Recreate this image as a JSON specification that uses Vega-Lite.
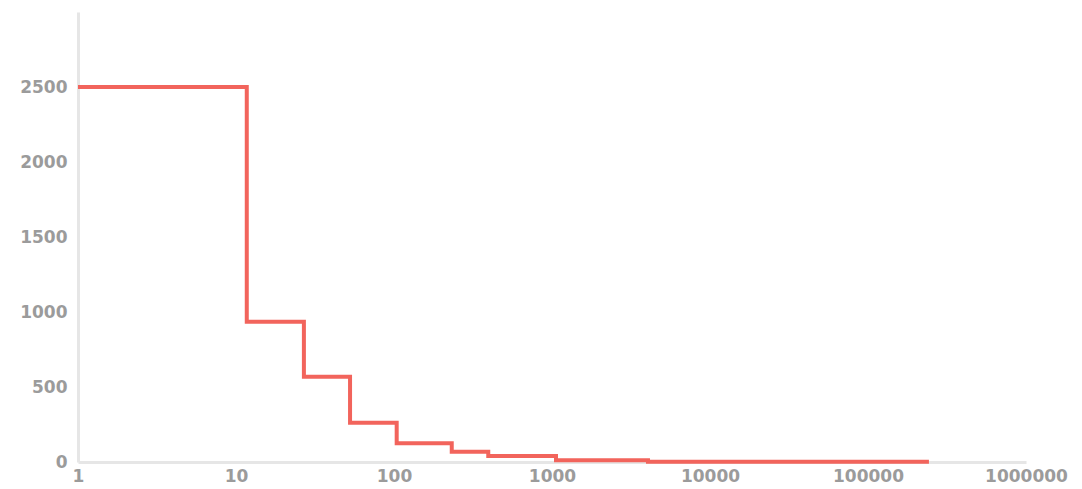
{
  "$schema": "https://vega.github.io/schema/vega-lite/v6.json",
  "autosize": {"type": "none"},
  "padding": {"left": 78, "top": 12, "right": 56, "bottom": 27},
  "width": 948,
  "height": 450,
  "background": "white",
  "config": {"view": {"stroke": null}},
  "data": {
    "values": [
      {"x": 1, "y": 2500},
      {"x": 11.7, "y": 935},
      {"x": 26.9, "y": 569},
      {"x": 52.7, "y": 262},
      {"x": 104, "y": 125},
      {"x": 232, "y": 69},
      {"x": 395, "y": 40},
      {"x": 1060, "y": 11},
      {"x": 4050, "y": 1},
      {"x": 243000, "y": 1}
    ]
  },
  "mark": {"type": "line", "interpolate": "step-after", "color": "#f2645c", "strokeWidth": 4, "clip": false},
  "encoding": {
    "x": {
      "field": "x", "type": "quantitative",
      "scale": {"type": "log", "domain": [1, 1000000], "nice": false},
      "axis": {
        "title": null, "grid": false, "ticks": false,
        "values": [1, 10, 100, 1000, 10000, 100000, 1000000],
        "format": "d",
        "domainColor": "#e6e6e6", "domainWidth": 3,
        "labelColor": "#9b9b9b", "labelFont": "DejaVu Sans", "labelFontWeight": "bold",
        "labelFontSize": 17, "labelPadding": 6, "labelFlush": false
      }
    },
    "y": {
      "field": "y", "type": "quantitative",
      "scale": {"domain": [0, 3000], "nice": false},
      "axis": {
        "title": null, "grid": false, "ticks": false,
        "values": [0, 500, 1000, 1500, 2000, 2500],
        "format": "d",
        "domainColor": "#e6e6e6", "domainWidth": 3,
        "labelColor": "#9b9b9b", "labelFont": "DejaVu Sans", "labelFontWeight": "bold",
        "labelFontSize": 17, "labelPadding": 11, "labelFlush": false
      }
    }
  }
}
